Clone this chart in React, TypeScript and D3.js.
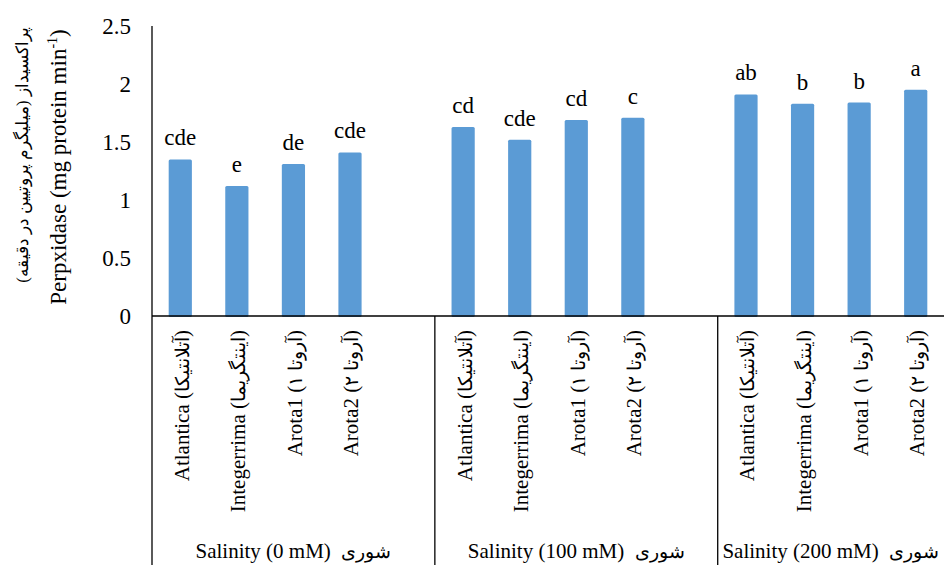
import React from "react";
import * as d3 from "d3";

// Peroxidase activity of four pistachio rootstocks under three salinity levels
const salinityGroups = ["Salinity (0 mM)", "Salinity (100 mM)", "Salinity (200 mM)"];
const salinityFa = "شوری";
const cultivars = ["Atlantica", "Integerrima", "Arota1", "Arota2"];
const cultivarsFa = ["آتلانتیکا", "اینتگریما", "آروتا ۱", "آروتا ۲"];

const values0mM = [1.35, 1.12, 1.31, 1.41];
const values100mM = [1.63, 1.52, 1.69, 1.71];
const values200mM = [1.91, 1.83, 1.84, 1.95];

const letters0mM = ["cde", "e", "de", "cde"];
const letters100mM = ["cd", "cde", "cd", "c"];
const letters200mM = ["ab", "b", "b", "a"];

const yTicks = [0, 0.5, 1, 1.5, 2, 2.5];

const W = 944;
const H = 565;
const SERIF = "Liberation Serif, Times New Roman, Times, DejaVu Serif, serif";

type Bar = { key: string; group: number; idx: number; value: number; letter: string };

export default function App() {
  const groupValues = [values0mM, values100mM, values200mM];
  const groupLetters = [letters0mM, letters100mM, letters200mM];

  // category slots: four cultivars per group, with an empty slot between groups
  const slots: string[] = [];
  const bars: Bar[] = [];
  salinityGroups.forEach((g, gi) => {
    cultivars.forEach((c, ci) => {
      const key = `${gi}-${c}`;
      slots.push(key);
      bars.push({ key, group: gi, idx: ci, value: groupValues[gi][ci], letter: groupLetters[gi][ci] });
    });
    if (gi < salinityGroups.length - 1) slots.push(`${gi}-gap`);
  });

  const left = 152;
  const x = d3.scaleBand<string>().domain(slots).range([left, W]).paddingInner(0.59).paddingOuter(0.295);
  const y = d3.scaleLinear().domain([0, 2.5]).range([316, 26]);
  const step = x.step();
  const half = (step - x.bandwidth()) / 2;

  const groupEdges = salinityGroups.map((_, gi) => {
    const first = x(`${gi}-${cultivars[0]}`)! - half;
    const last =
      gi < salinityGroups.length - 1 ? x(`${gi}-gap`)! - half + step : W;
    return [first, last];
  });

  return (
    <div style={{ position: "fixed", left: 0, top: 0, width: W, height: H, background: "#fff" }}>
      <svg width={W} height={H} style={{ display: "block", fontFamily: SERIF }}>
        <rect width={W} height={H} fill="#fff" />

        {/* bars */}
        {bars.map((b) => (
          <rect
            key={b.key}
            x={x(b.key)}
            y={y(b.value)}
            width={x.bandwidth()}
            height={y(0) - y(b.value) + 1}
            rx={1.5}
            fill="#5B9BD5"
          />
        ))}

        {/* significance letters */}
        {bars.map((b) => (
          <text
            key={`l-${b.key}`}
            x={x(b.key)! + x.bandwidth() / 2}
            y={y(b.value) - 14}
            textAnchor="middle"
            fontSize={23}
            fill="#000"
          >
            {b.letter}
          </text>
        ))}

        {/* y axis */}
        <line x1={left} x2={left} y1={y(2.5)} y2={y(0)} stroke="#000" strokeWidth={1.3} />
        {yTicks.map((t) => (
          <text key={t} x={131} y={y(t)} dy="0.35em" textAnchor="end" fontSize={23} fill="#000">
            {d3.format("")(t)}
          </text>
        ))}

        {/* x axis line and group separators */}
        <line x1={left} x2={W} y1={y(0)} y2={y(0)} stroke="#000" strokeWidth={1.3} />
        {groupEdges.map(([a], gi) => (
          <line key={`sep-${gi}`} x1={a} x2={a} y1={y(0)} y2={H} stroke="#000" strokeWidth={1.3} />
        ))}

        {/* cultivar labels */}
        {bars.map((b) => {
          const cx = x(b.key)! + x.bandwidth() / 2 + 1;
          return (
            <text
              key={`c-${b.key}`}
              transform={`translate(${cx},330) rotate(-90)`}
              textAnchor="end"
              dy="0.35em"
              fontSize={21}
              fill="#000"
            >
              {cultivars[b.idx]} (<tspan fontSize={19}>{cultivarsFa[b.idx]}</tspan>)
            </text>
          );
        })}

        {/* salinity group labels */}
        {salinityGroups.map((g, gi) => {
          const [a, c] = groupEdges[gi];
          return (
            <text key={`g-${gi}`} x={(a + c) / 2} y={558} textAnchor="middle" fontSize={21} fill="#000" xmlSpace="preserve">
              {g}
              {"  "}
              <tspan fontSize={19}>{salinityFa}</tspan>
            </text>
          );
        })}

        {/* y axis title */}
        <text transform="translate(66,167) rotate(-90)" textAnchor="middle" fontSize={23} fill="#000">
          Perpxidase (mg protein min
          <tspan dy={-9} fontSize={14}>-1</tspan>
          <tspan dy={9}>)</tspan>
        </text>
        <text
          transform="translate(28,155) rotate(-90)"
          textAnchor="middle"
          fontSize={16.5}
          fill="#000"
        >
          پراکسیداز (میلیگرم پروتیین در دقیقه)
        </text>
      </svg>
    </div>
  );
}
